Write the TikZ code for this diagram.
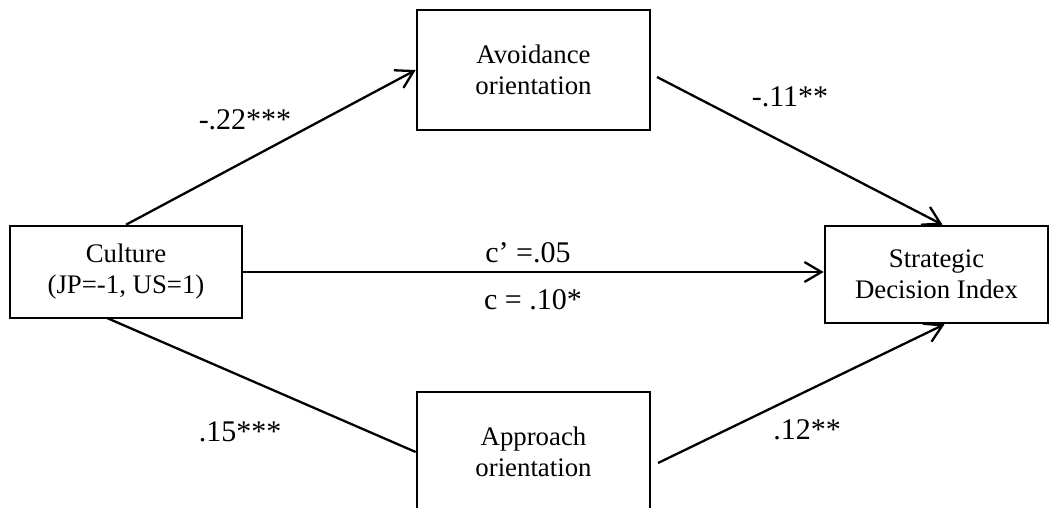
\documentclass[tikz,border=0pt]{standalone}
\usepackage{fontspec}
\setmainfont{Liberation Serif}
\usetikzlibrary{arrows.meta}
\begin{document}
\begin{tikzpicture}[x=1pt,y=-1pt,
  box/.style={draw,line width=2.6pt,inner sep=0pt,align=center,font=\fontsize{26.8}{31}\selectfont},
  lab/.style={font=\fontsize{30}{34}\selectfont,inner sep=0pt},
  conn/.style={line width=2.3pt},
  arr/.style={conn,-{Straight Barb[length=17pt,width=20pt]}}]
\useasboundingbox (0,0) rectangle (1049,507);
\clip (0,0) rectangle (1049,507);
\node[box,minimum width=232pt,minimum height=92pt] (cul) at (126,272) {Culture\\(JP=-1, US=1)};
\node[box,minimum width=233pt,minimum height=120pt] (avo) at (533.5,70) {Avoidance\\orientation};
\node[box,minimum width=223pt,minimum height=97pt] (str) at (936.5,274.5) {Strategic\\Decision Index};
\node[box,minimum width=233pt,minimum height=120pt] (app) at (533.5,452) {Approach\\orientation};
\coordinate (avoout) at (657,77);
\coordinate (appout) at (658,463);
\coordinate (culbot) at (107,318);
\draw[arr] (cul.north) -- (avo.west);
\draw[arr] (avoout) -- ([xshift=6pt]str.north);
\draw[arr] (cul.east) -- (cul.east -| str.west);
\draw[conn] (culbot) -- (app.west);
\draw[arr] (appout) -- ([xshift=8pt]str.south);
\node[lab] (l1) at (245,120) {-.22***};
\node[lab] (l2) at (790,97) {-.11**};
\node[lab] (l3) at (240,432) {.15***};
\node[lab] (l4) at (807,430) {.12**};
\node[lab] (l5) at (528,253) {c’ =.05};
\node[lab] (l6) at (533,300) {c = .10*};
\end{tikzpicture}
\end{document}
